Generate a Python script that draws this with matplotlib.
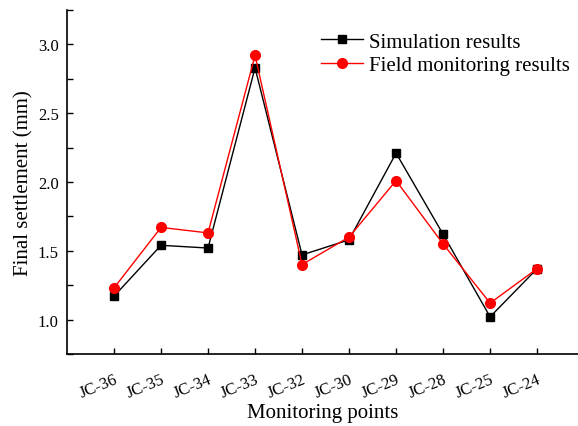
import matplotlib

matplotlib.use("Agg")
import matplotlib.pyplot as plt
from matplotlib.ticker import MultipleLocator

points = ["JC-36", "JC-35", "JC-34", "JC-33", "JC-32", "JC-30", "JC-29", "JC-28", "JC-25", "JC-24"]
simulation = [1.17, 1.54, 1.52, 2.83, 1.47, 1.58, 2.21, 1.62, 1.02, 1.37]
field = [1.23, 1.67, 1.63, 2.92, 1.40, 1.60, 2.01, 1.55, 1.12, 1.37]

plt.rcParams["font.family"] = ["Liberation Serif", "DejaVu Serif"]
fig = plt.figure(figsize=(5.78, 4.27), dpi=100)
ax = fig.add_axes([67 / 578, 1 - 355 / 427, 1 - 67 / 578, (355 - 11) / 427])

x = list(range(1, len(points) + 1))
ax.plot(x, simulation, color="black", lw=1, marker="s", ms=6, label="Simulation results")
ax.plot(x, field, color="red", lw=1, marker="o", ms=7, label="Field monitoring results")

ax.set_xlim(0, 10.87)
ax.set_ylim(0.75, 3.25)
ax.set_xticks(x)
ax.set_xticklabels(points, rotation=22, ha="right", rotation_mode="anchor", fontsize=12)
ax.yaxis.set_major_locator(MultipleLocator(0.5))
ax.yaxis.set_minor_locator(MultipleLocator(0.25))
ax.tick_params(direction="in", length=4, width=1, labelsize=12)
ax.tick_params(which="minor", direction="in", length=4, width=1)
ax.tick_params(axis="x", pad=12)
ax.tick_params(axis="y", pad=6)
for s in ["top", "right"]:
    ax.spines[s].set_visible(False)
for s in ["left", "bottom"]:
    ax.spines[s].set_linewidth(1.2)

ax.set_xlabel("Monitoring points", fontsize=15, labelpad=2)
ax.set_ylabel("Final settlement (mm)", fontsize=15, labelpad=3)
ax.legend(loc="upper right", bbox_to_anchor=(1.0, 0.96), frameon=False, fontsize=15,
          handlelength=2.0, handletextpad=0.3, labelspacing=0.2, borderaxespad=0)

fig.savefig("out.png", dpi=100)
